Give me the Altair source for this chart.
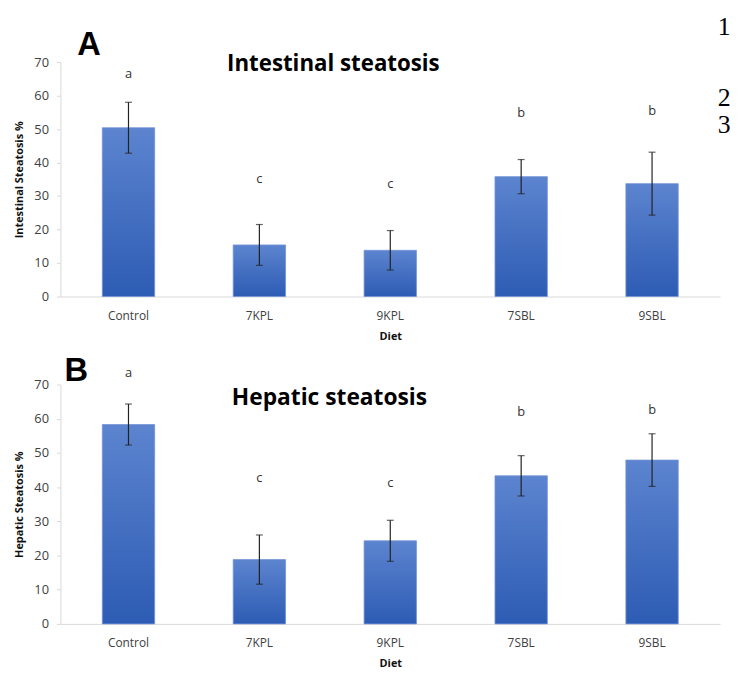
import altair as alt
import pandas as pd

diets = ["Control", "7KPL", "9KPL", "7SBL", "9SBL"]

int_mean = [50.4, 15.4, 13.8, 35.8, 33.7]
int_err = [7.6, 6.1, 5.9, 5.1, 9.4]
int_letters = ["a", "c", "c", "b", "b"]
int_letter_y = [66.5, 35.2, 33.7, 54.9, 55.5]

hep_mean = [58.3, 18.8, 24.3, 43.3, 47.9]
hep_err = [6.0, 7.2, 6.0, 5.9, 7.7]
hep_letters = ["a", "c", "c", "b", "b"]
hep_letter_y = [73.3, 42.6, 41.1, 62.0, 62.5]

y_ticks = [0, 10, 20, 30, 40, 50, 60, 70]
margin_numbers = ["1", "2", "3"]

FONT = "Open Sans"
W = 667

gradient = alt.Gradient(
    gradient="linear",
    stops=[alt.GradientStop(color="#5c84cf", offset=0),
           alt.GradientStop(color="#2d5cb4", offset=1)],
    x1=0, x2=0, y1=0, y2=1,
)


def panel(mean, err, letters, letter_y, ytitle, title, tag, h,
          title_xy, title_size, tag_xy, numbers=None):
    df = pd.DataFrame({
        "Diet": diets,
        "mean": mean,
        "lo": [m - e for m, e in zip(mean, err)],
        "hi": [m + e for m, e in zip(mean, err)],
        "letter": letters,
        "ly": letter_y,
    })
    xscale = alt.Scale(paddingInner=0.6, paddingOuter=0.32)
    xaxis = alt.Axis(title="Diet", labelAngle=0, ticks=False, domainColor="#d9d9d9",
                     labelFont=FONT, labelFontSize=12, labelColor="#404040",
                     labelPadding=14, titleFont=FONT, titleFontSize=11,
                     titleFontWeight="bold", titleColor="#111", titlePadding=9)
    x = alt.X("Diet:N", sort=diets, scale=xscale, axis=xaxis)
    yscale = alt.Scale(domain=[0, 70], nice=False)
    yaxis = alt.Axis(title=ytitle, values=y_ticks, grid=False, domainColor="#d9d9d9",
                     tickColor="#d9d9d9", tickSize=4, labelFont=FONT, labelFontSize=13,
                     labelColor="#404040", labelPadding=8, titleFont=FONT,
                     titleFontSize=11, titleFontWeight="bold", titleColor="#111",
                     titlePadding=9)

    def Y(f):
        return alt.Y(f, scale=yscale, axis=yaxis)

    base = alt.Chart(df)
    bars = base.mark_bar(color=gradient, stroke="#7393d6", strokeWidth=0.8).encode(
        x=x, y=Y("mean:Q"))
    rule = base.mark_rule(color="#222", strokeWidth=1.2).encode(
        x=x, y=Y("lo:Q"), y2="hi:Q")
    cap_hi = base.mark_tick(orient="horizontal", size=7, thickness=1.2, color="#222").encode(
        x=x, y=Y("hi:Q"))
    cap_lo = base.mark_tick(orient="horizontal", size=7, thickness=1.2, color="#222").encode(
        x=x, y=Y("lo:Q"))
    lets = base.mark_text(font=FONT, fontSize=13, color="#333", baseline="middle").encode(
        x=x, y=Y("ly:Q"), text="letter:N")

    tdf = pd.DataFrame({"t": [title]})
    ttl = alt.Chart(tdf).mark_text(font=FONT, fontSize=title_size, fontWeight="bold",
                                   color="#000", align="center",
                                   baseline="alphabetic").encode(
        x=alt.value(title_xy[0]), y=alt.value(title_xy[1]), text="t:N")
    gdf = pd.DataFrame({"t": [tag]})
    tg = alt.Chart(gdf).mark_text(font="Liberation Sans", fontSize=33, fontWeight="bold",
                                  color="#000", align="center", baseline="alphabetic").encode(
        x=alt.value(tag_xy[0]), y=alt.value(tag_xy[1]), text="t:N")
    layers = [bars, rule, cap_hi, cap_lo, lets, ttl, tg]
    if numbers is not None:
        for txt, yy in numbers:
            ndf = pd.DataFrame({"t": [txt]})
            layers.append(alt.Chart(ndf).mark_text(
                font="Liberation Serif", fontSize=26, color="#000", align="center",
                baseline="alphabetic").encode(
                x=alt.value(671), y=alt.value(yy), text="t:N"))
    return alt.layer(*layers).properties(width=W, height=h)


top = panel(int_mean, int_err, int_letters, int_letter_y, "Intestinal Steatosis %",
            "Intestinal steatosis", "A", 237, (276, 9), 22.5, (29, -7),
            numbers=list(zip(margin_numbers, [-27, 44, 72])))
bottom = panel(hep_mean, hep_err, hep_letters, hep_letter_y, "Hepatic Steatosis %",
               "Hepatic steatosis", "B", 242, (272, 21), 23, (16, -4))

chart = alt.vconcat(top, bottom, spacing=89, bounds="flush").properties(
    padding={"left": 6, "top": 3, "right": 0, "bottom": 5}
).configure_view(stroke=None)

chart.save("out.html", embed_options={"renderer": "svg", "actions": False})
